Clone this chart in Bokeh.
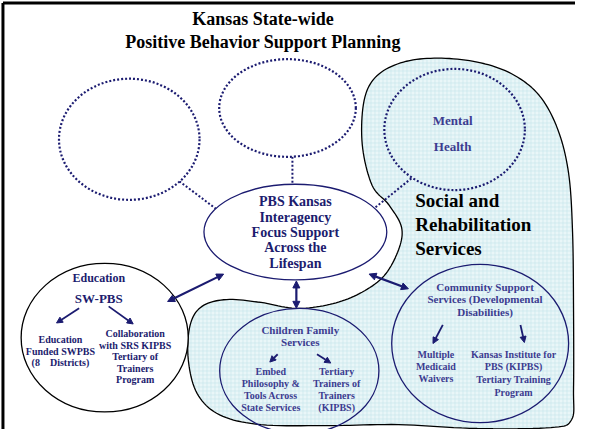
import numpy as np
from bokeh.plotting import figure
from bokeh.models import Range1d, Arrow, NormalHead, ColumnDataSource
from bokeh.core.properties import value
from bokeh.embed import file_html
from bokeh.resources import INLINE

NAVY = "#1b1b70"
TEXT_NAVY = "#1c1c6e"
LIGHT_NAVY = "#3c3c90"
FONT = value("Liberation Serif")

# ---- diagram data (reference pixel coordinates) ----
title_lines = ["Kansas State-wide", "Positive Behavior Support Planning"]
title_x = [272, 272]
title_y = [22, 45]

# ellipses
ell_names = ["blank_left", "blank_top", "mental_health", "pbs_kansas", "education", "children", "community"]
ell_x = [136, 297, 467, 305, 111, 309, 493]
ell_y = [145, 113, 135, 240, 348, 382, 354]
ell_w = [143, 139, 143, 186, 170, 162, 180]
ell_h = [124, 100, 124, 98, 152, 128, 162]
ell_dotted = [True, True, True, False, False, False, False]
ell_fill = ["white", "white", None, "white", "white", None, None]
ell_line = [NAVY, NAVY, NAVY, NAVY, "black", NAVY, NAVY]

# SRS region outline (control points of a closed smooth curve)
blob_x = [373, 375, 388, 415, 450, 490, 525, 553, 572, 583, 587, 588, 588, 586, 565, 490, 410,
          340, 270, 228, 205, 196, 198, 210, 235, 270, 305, 340, 370, 395, 410, 413, 400, 383]
blob_y = [150, 105, 80, 66, 62, 66, 78, 100, 135, 180, 240, 320, 400, 432, 440, 441, 437,
          438, 437, 427, 405, 370, 335, 316, 309, 312, 318, 314, 303, 285, 258, 235, 212, 192]

# dotted connectors
con_x0 = [187, 302, 423]
con_y0 = [188, 163, 185]
con_x1 = [224, 302, 386]
con_y1 = [216, 191, 215]

# double-headed arrows between PBS Kansas and the agencies
dbl_x0 = [232, 380, 306]
dbl_y0 = [283, 283, 290]
dbl_x1 = [175, 420, 306]
dbl_y1 = [311, 298, 318]

# single arrows inside the agency circles
sgl_x0 = [85, 115, 287, 327, 455, 534]
sgl_y0 = [318, 316, 365, 365, 335, 335]
sgl_x1 = [62, 140, 279, 341, 445, 538]
sgl_y1 = [333, 334, 373, 374, 354, 353]

# labels: lines, centre x, first-line y, line step, size, colour
lab_lines = [
    ["PBS Kansas", "Interagency", "Focus Support", "Across the", "Lifespan"],
    ["Mental", "Health"],
    ["Education"],
    ["SW-PBS"],
    ["Education", "Funded SWPBS", "(8\u2002\u2002Districts)"],
    ["Collaboration", "with SRS KIPBS", "Tertiary of", "Trainers", "Program"],
    ["Children Family", "Services"],
    ["Embed", "Philosophy &", "Tools Across", "State Services"],
    ["Tertiary", "Trainers of", "Trainers", "(KIPBS)"],
    ["Community Support", "Services (Developmental", "Disabilities)"],
    ["Multiple", "Medicaid", "Waivers"],
    ["Kansas Institute for", "PBS (KIPBS)", "Tertiary Training", "Program"],
]
lab_x = [305, 465, 105, 105, 66, 142, 310, 280, 347, 498, 448, 527]
lab_y0 = [209, 126, 287, 308, 350, 344, 340, 383, 383, 296, 365, 365]
lab_step = [15.7, 26, 0, 0, 11.7, 11.8, 12.5, 12, 12, 12.8, 12.5, 13]
lab_size = ["14px", "13px", "12px", "13px", "10px", "10px", "11px", "10px", "10px", "11px", "10px", "10px"]
lab_color = [TEXT_NAVY, LIGHT_NAVY, TEXT_NAVY, TEXT_NAVY, TEXT_NAVY, TEXT_NAVY, LIGHT_NAVY,
             LIGHT_NAVY, LIGHT_NAVY, LIGHT_NAVY, LIGHT_NAVY, LIGHT_NAVY]

srs_lines = ["Social and", "Rehabilitation", "Services"]
srs_x, srs_y0, srs_step = 427, 208, 24.5


def closed_spline(px, py, n=10):
    P = np.column_stack([px, py]).astype(float)
    m = len(P)
    out = []
    for i in range(m):
        p0, p1, p2, p3 = P[(i - 1) % m], P[i], P[(i + 1) % m], P[(i + 2) % m]
        for t in np.linspace(0, 1, n, endpoint=False):
            t2, t3 = t * t, t * t * t
            pt = 0.5 * ((2 * p1) + (-p0 + p2) * t + (2 * p0 - 5 * p1 + 4 * p2 - p3) * t2
                        + (-p0 + 3 * p1 - 3 * p2 + p3) * t3)
            out.append(pt)
    out = np.array(out)
    return out[:, 0], out[:, 1]


p = figure(width=575, height=429, x_range=Range1d(5, 590), y_range=Range1d(442, 3),
           output_backend="svg", toolbar_location=None, min_border=0,
           x_axis_location=None, y_axis_location=None)
p.grid.visible = False
p.outline_line_color = None

# SRS region (light cyan with a fine grid texture)
bx, by = closed_spline(blob_x, blob_y)
p.patch(bx, by, fill_color="#e9f6f8", hatch_pattern="+", hatch_color="#c3e2ea",
        hatch_scale=4, hatch_weight=0.6, line_color="black", line_width=1.3)

# frame
p.line([7.5, 7.5], [442, 5.5], line_color="black", line_width=3)
p.line([7.5, 591], [5.5, 5.5], line_color="black", line_width=3)

# connectors
p.segment(con_x0, con_y0, con_x1, con_y1, line_color=NAVY, line_width=2, line_dash="2 2")

# ellipses
for i in range(len(ell_names)):
    kw = dict(line_color=ell_line[i], line_width=2.2 if ell_dotted[i] else 1.3)
    if ell_dotted[i]:
        kw["line_dash"] = "2 2"
    if ell_fill[i] is None:
        kw["fill_alpha"] = 0
    else:
        kw["fill_color"] = ell_fill[i]
    p.ellipse(x=[ell_x[i]], y=[ell_y[i]], width=[ell_w[i]], height=[ell_h[i]], **kw)

# arrows
dsrc = ColumnDataSource(dict(x0=dbl_x0, y0=dbl_y0, x1=dbl_x1, y1=dbl_y1))
p.add_layout(Arrow(source=dsrc, x_start="x0", y_start="y0", x_end="x1", y_end="y1",
                   line_color=NAVY, line_width=2.2,
                   start=NormalHead(size=7, fill_color=NAVY, line_color=NAVY),
                   end=NormalHead(size=7, fill_color=NAVY, line_color=NAVY)))
ssrc = ColumnDataSource(dict(x0=sgl_x0, y0=sgl_y0, x1=sgl_x1, y1=sgl_y1))
p.add_layout(Arrow(source=ssrc, x_start="x0", y_start="y0", x_end="x1", y_end="y1",
                   line_color=NAVY, line_width=1.8,
                   end=NormalHead(size=6, fill_color=NAVY, line_color=NAVY)))

# title
p.text(x=title_x, y=title_y, text=title_lines, text_font=FONT, text_font_style="bold",
       text_font_size="18px", text_color="black", text_align="center", text_baseline="middle")

# labels, one text per line
for i, lines in enumerate(lab_lines):
    ys = [lab_y0[i] + k * lab_step[i] for k in range(len(lines))]
    p.text(x=[lab_x[i]] * len(lines), y=ys, text=lines, text_font=FONT,
           text_font_style="bold", text_font_size=lab_size[i], text_color=lab_color[i],
           text_align="center", text_baseline="middle")

p.text(x=[srs_x] * 3, y=[srs_y0 + k * srs_step for k in range(3)], text=srs_lines,
       text_font=FONT, text_font_style="bold", text_font_size="19px", text_color="black",
       text_align="left", text_baseline="middle")

open("out.html", "w").write(file_html(p, INLINE))
